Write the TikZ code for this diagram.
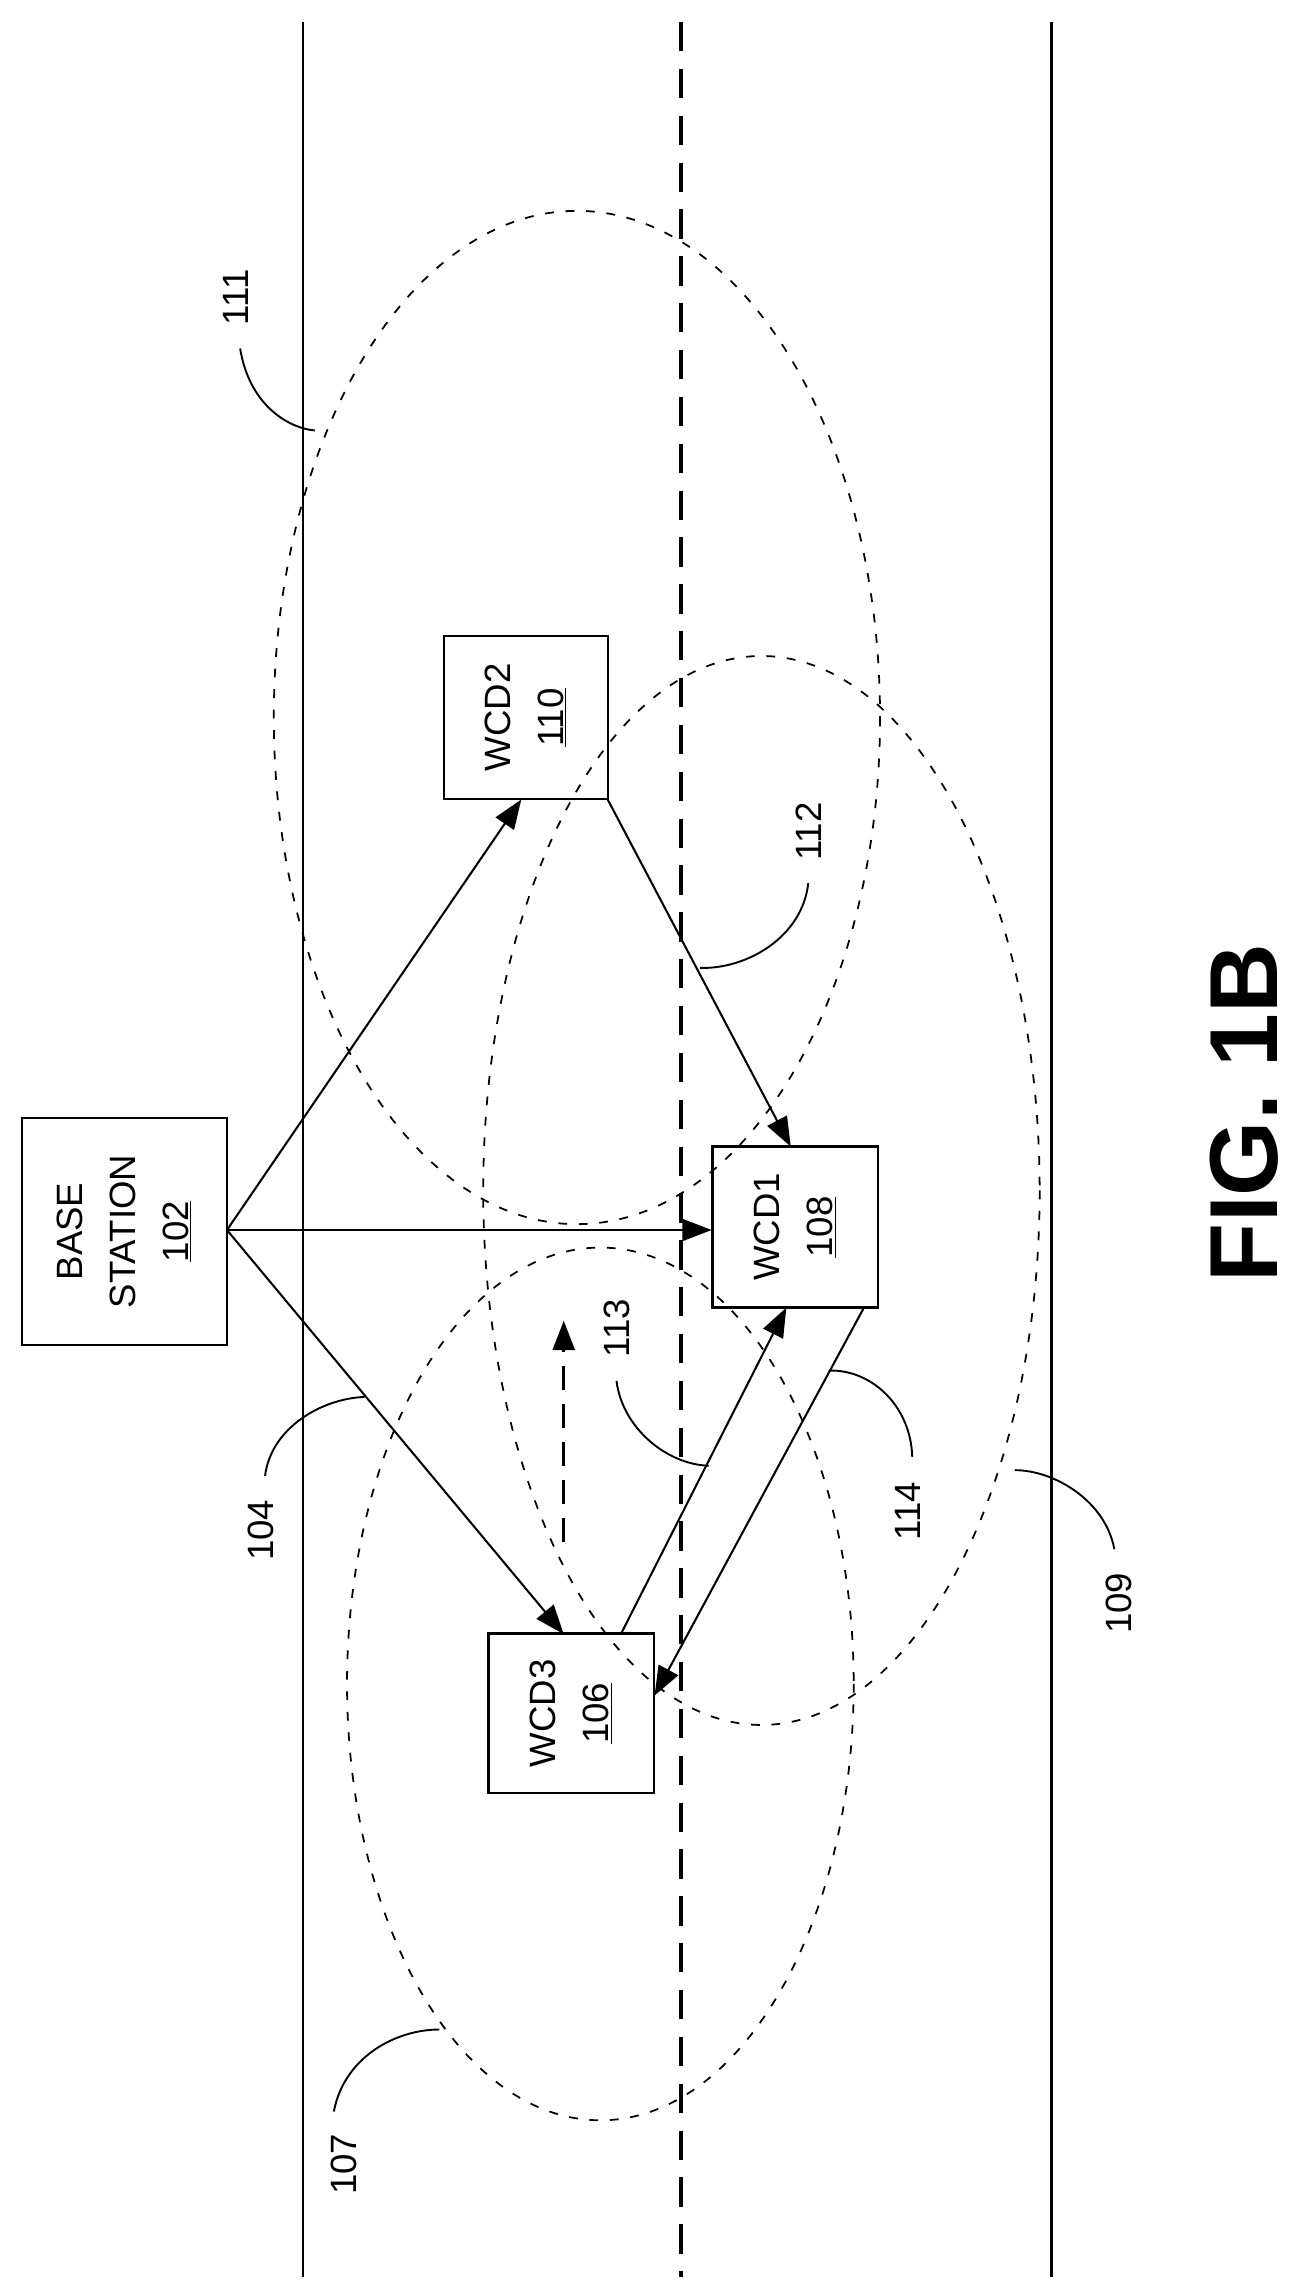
\documentclass[tikz,border=0pt]{standalone}
\usepackage{fontspec}
\setmainfont{Liberation Sans}
\usetikzlibrary{arrows.meta}
\begin{document}
\begin{tikzpicture}[x=1pt,y=-1pt,
  box/.style={draw,line width=1.6pt,inner sep=0pt},
  txt/.style={rotate=90,font=\fontsize{25}{36}\selectfont,align=center},
  lbl/.style={rotate=90,font=\fontsize{25}{30}\selectfont},
  link/.style={line width=1.4pt,-{Triangle[length=20pt,width=15pt]}},
  rng/.style={line width=1.2pt,dash pattern=on 6pt off 8pt},
  lead/.style={line width=1.3pt}]
\useasboundingbox (0,0) rectangle (893,1568);
% lanes
\draw[line width=1.6pt] (207,15) -- (207,1555);
\draw[line width=1.6pt] (718,15) -- (718,1555);
\draw[line width=2.6pt,dash pattern=on 20pt off 12pt] (465,15) -- (465,1555);
% ranges
\draw[rng] (394,490) ellipse [x radius=207,y radius=346];
\draw[rng] (520,813) ellipse [x radius=190,y radius=365];
\draw[rng] (410,1150) ellipse [x radius=173,y radius=298];
% boxes
\node[box,minimum width=140pt,minimum height=155pt] (bs) at (85,841) {};
\node[txt] at (bs) {BASE\\STATION\\\underline{102}};
\node[box,minimum width=112pt,minimum height=111pt] (w2) at (359,490) {};
\node[txt] at (w2) {WCD2\\\underline{110}};
\node[box,minimum width=113pt,minimum height=110pt] (w1) at (543,838) {};
\node[txt] at (w1) {WCD1\\\underline{108}};
\node[box,minimum width=113pt,minimum height=109pt] (w3) at (390,1170) {};
\node[txt] at (w3) {WCD3\\\underline{106}};
% coordinates on box borders
\coordinate (bsr) at (155,840);
\coordinate (w2b) at (356,546);
\coordinate (w2br) at (415,546);
\coordinate (w1l) at (486,840);
\coordinate (w1t) at (540,783);
\coordinate (w1b) at (537,893);
\coordinate (w1br) at (590,893);
\coordinate (w3t) at (385,1116);
\coordinate (w3tr) at (424,1116);
\coordinate (w3r) at (447,1158);
% links
\draw[link] (bsr) -- (w2b);
\draw[link] (bsr) -- (w1l);
\draw[link] (bsr) -- (w3t);
\draw[link] (w2br) -- (w1t);
\draw[link] (w3tr) -- (w1b);
\draw[link] (w1br) -- (w3r);
\coordinate (da) at (385,1053);
\coordinate (db) at (385,902);
\draw[line width=2pt,dash pattern=on 16pt off 10pt,-{Triangle[length=20pt,width=15pt]}] (da) -- (db);
% labels
\node[lbl] (l111) at (161,203) {111};
\draw[lead] (164,238) .. controls (170,275) and (195,292) .. (215,294);
\node[lbl] (l112) at (552,568) {112};
\draw[lead] (552,603) .. controls (548,640) and (510,662) .. (478,661);
\node[lbl] (l113) at (421,907) {113};
\draw[lead] (421,943) .. controls (425,975) and (455,1000) .. (484,1001);
\node[lbl] (l114) at (620,1032) {114};
\draw[lead] (623,995) .. controls (622,960) and (595,935) .. (566,936);
\node[lbl] (l104) at (178,1045) {104};
\draw[lead] (181,1008) .. controls (185,975) and (220,955) .. (249,954);
\node[lbl] (l109) at (764,1095) {109};
\draw[lead] (761,1058) .. controls (755,1025) and (720,1004) .. (693,1004);
\node[lbl] (l107) at (235,1478) {107};
\draw[lead] (228,1442) .. controls (235,1405) and (270,1386) .. (300,1386);
\node[rotate=90,font=\bfseries\fontsize{66}{70}\selectfont] (fig) at (850,760) {FIG. 1B};
\end{tikzpicture}
\end{document}
